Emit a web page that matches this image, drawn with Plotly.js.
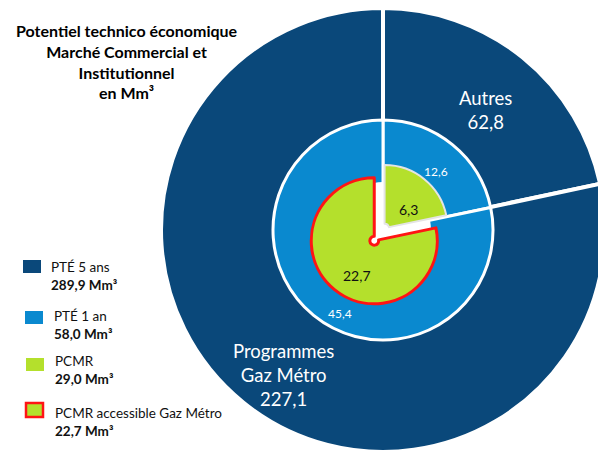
<!DOCTYPE html>
<html><head><meta charset="utf-8">
<script src="https://cdn.plot.ly/plotly-3.0.1.min.js"></script>
<style>html,body{margin:0;padding:0;overflow:hidden;background:#fff}#chart{width:606px;height:453px}</style>
</head><body><div id="chart"></div>
<script>
// ---- data ----
const sliceLabels = ['Autres', 'Programmes<br>Gaz Métro'];
const outerValues = [62.8, 227.1];   // PTÉ 5 ans
const middleValues = [12.6, 45.4];   // PTÉ 1 an
const innerValues = [6.3, 22.7];     // PCMR
const accessibleValue = 22.7;        // PCMR accessible Gaz Métro
const legendNames = ['PTÉ 5 ans', 'PTÉ 1 an', 'PCMR', 'PCMR accessible Gaz Métro'];
const unit = 'Mm³';
const titleLines = ['Potentiel technico économique', 'Marché Commercial et', 'Institutionnel', 'en Mm³'];

// ---- style ----
const W = 606, H = 453;
const DARK = '#0A487A', LIGHT = '#0A89CF', GREEN = '#B4E02C', RED = '#FF1414';
const FONT = 'Lato, Carlito, Calibri, "Open Sans", sans-serif';
const X = px => px / W;
const Y = py => 1 - py / H;
const dom = (cx, cy, h) => ({x: [X(cx - h), X(cx + h)], y: [Y(cy + h), Y(cy - h)]});
const fmt = v => v.toFixed(1).replace('.', ',');
const sum = a => a.reduce((s, v) => s + v, 0);

const CX = 383, CY = 230;
const innerPull = [0.04, 0.22];

const common = {type: 'pie', sort: false, direction: 'clockwise', rotation: 0,
  textinfo: 'none', hoverinfo: 'label+value', showlegend: false};

const traces = [
  Object.assign({}, common, {labels: sliceLabels, values: outerValues, name: legendNames[0],
    domain: dom(CX, CY, 222),
    marker: {colors: [DARK, DARK], line: {color: '#ffffff', width: 4}}}),
  Object.assign({}, common, {labels: sliceLabels, values: middleValues, name: legendNames[1],
    domain: dom(CX, CY, 110),
    marker: {colors: [LIGHT, LIGHT], line: {color: '#ffffff', width: 3}}}),
  Object.assign({}, common, {labels: [legendNames[2]], values: [sum(innerValues)], name: 'fond',
    domain: dom(CX, CY, 48), hoverinfo: 'skip',
    marker: {colors: ['#ffffff'], line: {color: '#ffffff', width: 0}}}),
  Object.assign({}, common, {labels: sliceLabels, values: innerValues, name: legendNames[2],
    domain: dom(CX, CY, 63 * (1 + Math.max(...innerPull))), pull: innerPull, hole: 0.07,
    marker: {colors: [GREEN, GREEN], line: {color: ['#E4E4E4', RED], width: [2, 3]}}})
];

const ann = [];
const A = (x, y, text, size, color, extra) => ann.push(Object.assign({
  x: X(x), y: Y(y), xref: 'paper', yref: 'paper', text: text, showarrow: false,
  xanchor: 'center', yanchor: 'middle', font: {family: FONT, size: size, color: color}}, extra || {}));

// title
A(127, 61.5, titleLines.map(t => '<b>' + t + '</b>').join('<br>'), 16, '#000000');

// slice labels
A(485, 109.5, sliceLabels[0] + '<br>' + fmt(outerValues[0]), 18.5, '#ffffff');
A(283, 374.5, sliceLabels[1] + '<br>' + fmt(outerValues[1]), 18.5, '#ffffff');
A(436, 172, fmt(middleValues[0]), 12, '#ffffff');
A(340, 313, fmt(middleValues[1]), 12, '#ffffff');
A(408, 209, fmt(innerValues[0]), 14, '#111111');
A(357, 275, fmt(innerValues[1]), 14, '#111111');

// legend
const totals = [sum(outerValues), sum(middleValues), sum(innerValues), accessibleValue];
const legX = [49, 52, 53, 53];
const legY = [275.5, 325, 369.5, 422];
const sw = [[23, 260, 41, 273], [25, 311, 43, 324], [26, 358, 44, 371], [26, 403, 43, 417]];
const swFill = [DARK, LIGHT, GREEN, GREEN];
const shapes = [];
legendNames.forEach((n, i) => {
  A(legX[i], legY[i], n + '<br><b>' + fmt(totals[i]) + ' ' + unit + '</b>', 13.5, '#111111',
    {xanchor: 'left', align: 'left'});
  const s = sw[i];
  shapes.push({type: 'rect', xref: 'paper', yref: 'paper', x0: X(s[0]), x1: X(s[2]), y0: Y(s[3]), y1: Y(s[1]),
    fillcolor: swFill[i], line: {color: i === 3 ? RED : swFill[i], width: i === 3 ? 2.5 : 0}});
});

const layout = {width: W, height: H, margin: {l: 0, r: 0, t: 0, b: 0},
  paper_bgcolor: '#ffffff', font: {family: FONT}, showlegend: false,
  annotations: ann, shapes: shapes};

Plotly.newPlot('chart', traces, layout, {displayModeBar: false, staticPlot: true});
</script></body></html>
